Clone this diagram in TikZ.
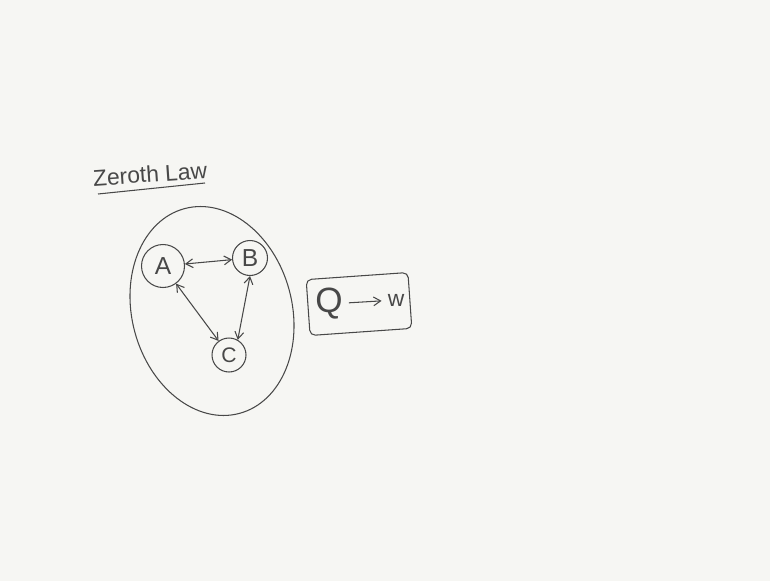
\documentclass[tikz,border=0pt]{standalone}
\usepackage{fontspec}
\setmainfont{Liberation Sans}
\definecolor{boardbg}{RGB}{246,246,243}
\definecolor{marker}{RGB}{72,72,72}
\usetikzlibrary{arrows.meta,positioning}

\begin{document}
\begin{tikzpicture}[x=0.02cm, y=-0.02cm,
    ink/.style={draw=marker, line width=0.6pt},
    body/.style={ink, circle, inner sep=0pt, text=marker},
    link/.style={ink, {Straight Barb[length=4pt,width=5pt]}-{Straight Barb[length=4pt,width=5pt]}}]
    % Whiteboard
    \fill[boardbg] (0,0) rectangle (770,581);
    \useasboundingbox (0,0) rectangle (770,581);

    % Title, underlined
    \node[text=marker, font=\fontsize{13}{13}\selectfont, rotate=4] (title) at (150,174) {Zeroth Law};
    \draw[ink] (98,194) -- (205,183);

    % System boundary
    \draw[ink, rotate around={15:(212,311)}] (212,311) ellipse (80 and 106);

    % Bodies in contact
    \node[body, minimum size=0.86cm, font=\fontsize{14}{14}\selectfont] (a) at (163,266) {A};
    \node[body, minimum size=0.7cm, font=\fontsize{14}{14}\selectfont] (b) at (250,258) {B};
    \node[body, minimum size=0.68cm, font=\fontsize{12}{12}\selectfont] (c) at (229,355) {C};
    \draw[link] (a) -- (b);
    \draw[link] (a) -- (c);
    \draw[link] (b.south) -- (c.60);

    % Heat to work
    \draw[ink, rounded corners=3pt, rotate around={4:(359,304)}] (308,276) rectangle (410,332);
    \node[text=marker, font=\fontsize{20}{20}\selectfont] (q) at (329,304) {Q};
    \node[text=marker, font=\fontsize{13}{13}\selectfont] (w) at (396,300) {w};
    \draw[ink, -{Straight Barb[length=4pt,width=5pt]}] (q) -- (w);
\end{tikzpicture}
\end{document}
